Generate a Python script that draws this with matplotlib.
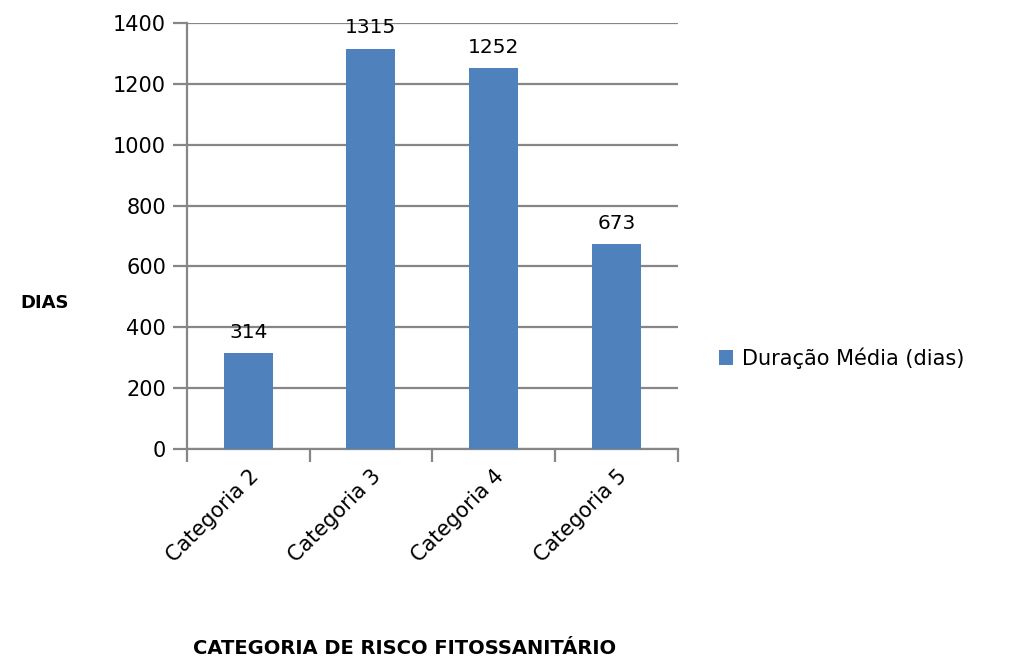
import matplotlib.pyplot as plt
from matplotlib.patches import Patch

# Average duration per phytosanitary risk category
categorias = ['Categoria 2', 'Categoria 3', 'Categoria 4', 'Categoria 5']
duracao_media = [314, 1315, 1252, 673]
y_ticks = [0, 200, 400, 600, 800, 1000, 1200, 1400]

bar_color = '#4F81BD'
grid_color = '#868686'
plt.rcParams['font.family'] = ['DejaVu Sans']

fig = plt.figure(figsize=(10.1, 6.61), dpi=100)
ax = fig.add_axes([0.185, 0.3207, 0.486, 0.6443])

x = list(range(len(categorias)))
bars = ax.bar(x, duracao_media, width=0.4, color=bar_color, zorder=3)

# value labels above each bar
for xi, v in zip(x, duracao_media):
    ax.text(xi, v + 38, str(v), ha='center', va='bottom', fontsize=14.5, zorder=4)

ax.set_xlim(-0.5, len(categorias) - 0.5)
ax.set_ylim(0, 1400)
ax.set_yticks(y_ticks)
ax.yaxis.grid(True, color=grid_color, linewidth=1.6, zorder=0)

ax.set_xticks(x)
ax.set_xticklabels(categorias, rotation=45, ha='right', rotation_mode='anchor', fontsize=15)
ax.set_xticks([i - 0.5 for i in range(len(categorias) + 1)], minor=True)
ax.tick_params(axis='x', which='major', length=0, pad=12)
ax.tick_params(axis='x', which='minor', length=9, width=1.6, color=grid_color)
ax.tick_params(axis='y', length=10, width=1.6, color=grid_color, labelsize=15, pad=5)

for side in ['top', 'right']:
    ax.spines[side].set_visible(False)
for side in ['left', 'bottom']:
    ax.spines[side].set_color(grid_color)
    ax.spines[side].set_linewidth(1.6)

fig.text(45 / 1010, 1 - 303 / 661, 'DIAS', ha='center', va='center',
         fontsize=13, fontweight='bold')
fig.text(405 / 1010, 1 - 648 / 661, 'CATEGORIA DE RISCO FITOSSANITÁRIO',
         ha='center', va='center', fontsize=14, fontweight='bold')

handle = Patch(facecolor=bar_color, edgecolor='none')
fig.legend([handle], ['Duração Média (dias)'], loc='center left',
           bbox_to_anchor=(700 / 1010, 1 - 358 / 661), frameon=False,
           fontsize=15, handlelength=0.7, handleheight=0.7, handletextpad=0.4)

fig.savefig('out.png', dpi=100)
